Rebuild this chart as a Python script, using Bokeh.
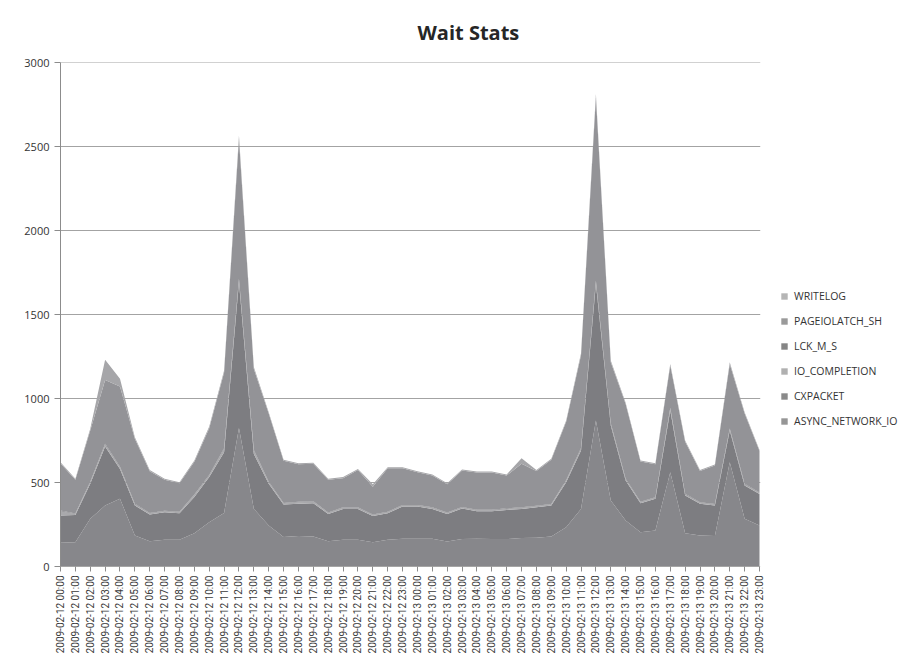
import math
from bokeh.plotting import figure
from bokeh.models import (ColumnDataSource, Range1d, FixedTicker, Legend, LegendItem)
from bokeh.embed import file_html
from bokeh.resources import INLINE

hours = ["%02d:00" % h for h in range(24)]
categories = ["2009-02-12 " + h for h in hours] + ["2009-02-13 " + h for h in hours]

async_network_io = [141, 145, 284, 363, 403, 185, 151, 159, 159, 198, 264, 319, 825, 343, 244, 175,
                    181, 179, 151, 159, 159, 145, 159, 165, 165, 165, 149, 163, 165, 163, 163, 169,
                    171, 179, 234, 343, 869, 393, 274, 204, 214, 561, 198, 185, 181, 621, 284, 244]
cxpacket = [162, 162, 208, 351, 178, 178, 159, 164, 158, 215, 268, 361, 867, 327, 248, 194,
            192, 198, 162, 184, 184, 155, 158, 192, 192, 178, 164, 182, 164, 166, 174, 174,
            182, 184, 268, 347, 813, 446, 238, 173, 189, 367, 225, 188, 182, 188, 198, 188]
io_completion = [26, 6, 8, 10, 8, 6, 6, 6, 6, 12, 8, 18, 12, 18, 8, 6,
                 10, 8, 6, 6, 6, 6, 6, 6, 6, 6, 6, 6, 6, 6, 6, 6,
                 6, 6, 8, 10, 10, 8, 6, 6, 6, 12, 6, 6, 6, 8, 6, 6]
lck_m_s = [4, 3, 4, 6, 5, 4, 3, 3, 3, 4, 5, 6, 9, 6, 4, 3,
           3, 3, 3, 3, 3, 3, 3, 3, 3, 3, 3, 3, 3, 3, 3, 3,
           3, 3, 4, 6, 9, 6, 4, 3, 3, 5, 4, 3, 3, 5, 4, 3]
pageiolatch_sh = [280, 200, 306, 380, 477, 387, 248, 184, 170, 194, 278, 451, 832, 481, 406, 251,
                  223, 224, 194, 174, 223, 166, 259, 219, 195, 190, 168, 217, 221, 221, 196, 259,
                  207, 263, 347, 552, 1092, 363, 445, 239, 197, 251, 309, 187, 229, 384, 418, 247]
writelog = [8, 6, 10, 120, 46, 10, 8, 6, 6, 8, 10, 12, 20, 12, 8, 6,
            6, 6, 6, 6, 6, 15, 6, 6, 6, 6, 6, 6, 6, 6, 6, 34,
            6, 6, 8, 12, 20, 10, 8, 6, 6, 10, 8, 6, 6, 10, 8, 6]

series_names = ["ASYNC_NETWORK_IO", "CXPACKET", "IO_COMPLETION", "LCK_M_S", "PAGEIOLATCH_SH", "WRITELOG"]
series_values = [async_network_io, cxpacket, io_completion, lck_m_s, pageiolatch_sh, writelog]
area_colors = ["#87878b", "#7d7d81", "#a9a9ac", "#7a7a7e", "#939397", "#a6a6a9"]
legend_colors = ["#969696", "#8a8a8a", "#b0b0b0", "#858585", "#9a9a9a", "#b5b5b5"]
y_ticks = [0, 500, 1000, 1500, 2000, 2500, 3000]

n_cat = len(categories)
last = n_cat - 1
# frame extends to the right edge so the legend can sit inside it; the plot region ends at the last category
px_per_cat = 699.0 / last
x_end = (904 - 60) / px_per_cat

data = {"x": list(range(n_cat))}
for n, v in zip(series_names, series_values):
    data[n] = v
source = ColumnDataSource(data)

p = figure(width=904, height=660, output_backend="svg", toolbar_location=None,
           x_range=Range1d(0, x_end), y_range=Range1d(0, 3000),
           min_border_left=60, min_border_right=0, min_border_top=62, min_border_bottom=94)

# horizontal gridlines over the category span only (drawn beneath the areas)
p.segment(x0=[0] * len(y_ticks), x1=[last + 0.05] * len(y_ticks), y0=y_ticks, y1=y_ticks,
          line_color="#a3a3a3", line_width=1.2)

renderers = p.varea_stack(stackers=series_names, x="x", color=area_colors, source=source)

# x axis baseline over the category span
p.segment(x0=[0], x1=[last], y0=[0], y1=[0], line_color="#8c8c8c", line_width=1)

p.title.text = "Wait Stats"
p.title.align = "left"
p.title.offset = 357
p.title.standoff = 33
p.title.text_font = "Open Sans"
p.title.text_font_size = "20px"
p.title.text_font_style = "bold"
p.title.text_color = "#262626"

p.outline_line_color = None
p.xgrid.grid_line_color = None
p.ygrid.grid_line_color = None

p.yaxis.ticker = FixedTicker(ticks=y_ticks)
p.yaxis.axis_line_color = "#8c8c8c"
p.yaxis.major_tick_line_color = "#8c8c8c"
p.yaxis.major_tick_out = 6
p.yaxis.major_tick_in = 0
p.yaxis.minor_tick_line_color = None
p.yaxis.major_label_text_font = "Open Sans"
p.yaxis.major_label_text_font_size = "11px"
p.yaxis.major_label_text_color = "#333333"
p.yaxis.major_label_standoff = 5

p.xaxis.ticker = FixedTicker(ticks=list(range(n_cat)))
p.xaxis.major_label_overrides = {i: c for i, c in enumerate(categories)}
p.xaxis.major_label_orientation = math.pi / 2
p.xaxis.axis_line_color = None
p.xaxis.major_tick_line_color = "#8c8c8c"
p.xaxis.major_tick_out = 5
p.xaxis.major_tick_in = 0
p.xaxis.minor_tick_line_color = None
p.xaxis.major_label_text_font = "Roboto"
p.xaxis.major_label_text_font_size = "10px"
p.xaxis.major_label_text_color = "#3a3a3a"
p.xaxis.major_label_standoff = 4

# legend swatches: off-screen quads so the swatch colours can differ from area colours
items = []
for n, c in reversed(list(zip(series_names, legend_colors))):
    r = p.quad(left=[-3], right=[-2], bottom=[-100], top=[-50], fill_color=c, line_color=None)
    items.append(LegendItem(label=n, renderers=[r]))

legend = Legend(items=items, location=(720, 138), orientation="vertical",
                padding=0, margin=0, spacing=11, label_height=14, glyph_height=8, glyph_width=8,
                label_standoff=6, label_text_font="Open Sans", label_text_font_size="10.5px",
                label_text_color="#333333", background_fill_alpha=0, border_line_alpha=0)
p.add_layout(legend)

open("out.html", "w").write(file_html(p, INLINE))
